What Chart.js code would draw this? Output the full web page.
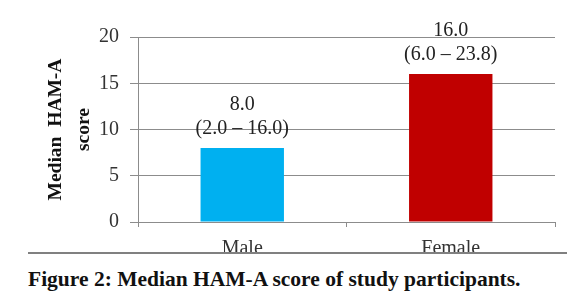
<!DOCTYPE html>
<html>
<head>
<meta charset="utf-8">
<script src="https://cdn.jsdelivr.net/npm/chart.js@4"></script>
<style>
  html, body { margin: 0; padding: 0; background: #fff; }
  #wrap { position: relative; width: 567px; height: 305px; overflow: hidden; }
  #cover {
    position: absolute; left: 0; top: 252px; width: 567px; height: 53px;
    background: #fff;
  }
  #rule { position: absolute; left: 28px; top: 0; right: 0; height: 2px; background: #808080; }
  #caption {
    position: absolute; left: 28px; top: 15px; white-space: nowrap;
    font: bold 21.5px "Liberation Serif", serif; color: #111;
  }
</style>
</head>
<body>
<div id="wrap">
  <canvas id="chart" width="567" height="305"></canvas>
  <div id="cover"><div id="rule"></div><div id="caption">Figure 2: Median HAM-A score of study participants.</div></div>
</div>
<script>
const groups  = ["Male", "Female"];
const medians = [8.0, 16.0];
const lowerQ  = [2.0, 6.0];
const upperQ  = [16.0, 23.8];
const colors  = ["#00b0f0", "#c00000"];
const yTicks  = [0, 5, 10, 15, 20];

const serif = "'Liberation Serif', 'Times New Roman', serif";

// two-line label above each bar: median, then (IQR)
const barLabels = {
  id: "barLabels",
  afterDatasetsDraw(chart) {
    const ctx = chart.ctx;
    const meta = chart.getDatasetMeta(0);
    ctx.save();
    ctx.font = "20px " + serif;
    ctx.fillStyle = "#222";
    ctx.textAlign = "center";
    ctx.textBaseline = "middle";
    meta.data.forEach((bar, i) => {
      ctx.fillText(medians[i].toFixed(1), bar.x, bar.y - 43);
      ctx.fillText("(" + lowerQ[i].toFixed(1) + " \u2013 " + upperQ[i].toFixed(1) + ")", bar.x, bar.y - 19);
    });
    ctx.restore();
  }
};

new Chart("chart", {
  type: "bar",
  data: {
    labels: groups,
    datasets: [{
      data: medians,
      backgroundColor: colors,
      borderWidth: 0,
      barPercentage: 0.4,
      categoryPercentage: 1.0
    }]
  },
  options: {
    responsive: false,
    animation: false,
    layout: { padding: { top: 37, right: 12, left: 0, bottom: 0 } },
    plugins: {
      legend: { display: false },
      tooltip: { enabled: false }
    },
    scales: {
      x: {
        afterFit(scale) { scale.height = 83; },
        grid: { drawOnChartArea: false, drawTicks: true, tickLength: 5, color: "#8c8c8c" },
        border: { color: "#8c8c8c" },
        ticks: { font: { family: serif, size: 20 }, color: "#333", padding: 10 }
      },
      y: {
        min: 0,
        max: 20,
        afterFit(scale) { scale.width = 138; },
        afterBuildTicks(scale) { scale.ticks = yTicks.map(v => ({ value: v })); },
        grid: { color: "#8c8c8c", tickLength: 8 },
        border: { color: "#8c8c8c" },
        ticks: { font: { family: serif, size: 20 }, color: "#333", padding: 11 },
        title: {
          display: true,
          text: ["Median  HAM-A", "score"],
          font: { family: serif, size: 19.5, weight: "bold", lineHeight: 1.44 },
          color: "#111",
          padding: { top: 42, bottom: 0 }
        }
      }
    }
  },
  plugins: [barLabels]
});
</script>
</body>
</html>
